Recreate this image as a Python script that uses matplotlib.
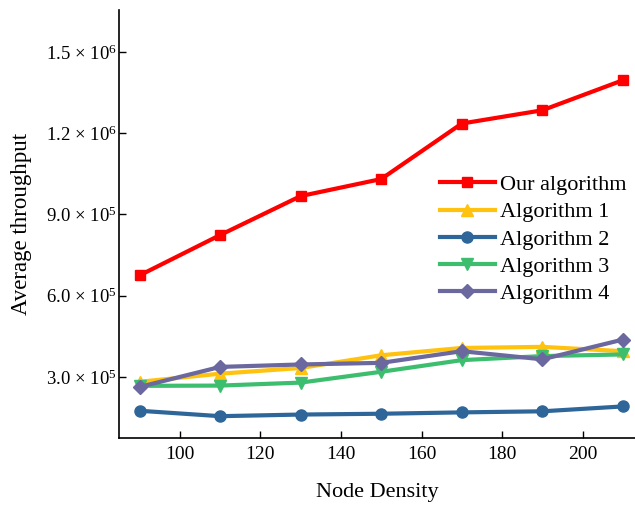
import matplotlib
matplotlib.use("Agg")
import matplotlib.pyplot as plt
from matplotlib.ticker import FuncFormatter

# Node density on the x axis
node_density = [90, 110, 130, 150, 170, 190, 210]

# Average throughput per method
our_algorithm = [6.75e5, 8.24e5, 9.68e5, 1.031e6, 1.236e6, 1.285e6, 1.396e6]
algorithm_1 = [2.82e5, 3.12e5, 3.33e5, 3.80e5, 4.07e5, 4.11e5, 3.95e5]
algorithm_2 = [1.75e5, 1.55e5, 1.61e5, 1.64e5, 1.69e5, 1.73e5, 1.91e5]
algorithm_3 = [2.67e5, 2.68e5, 2.79e5, 3.19e5, 3.62e5, 3.77e5, 3.83e5]
algorithm_4 = [2.63e5, 3.37e5, 3.46e5, 3.52e5, 3.95e5, 3.65e5, 4.38e5]

series_names = ["Our algorithm", "Algorithm 1", "Algorithm 2", "Algorithm 3", "Algorithm 4"]
series_values = [our_algorithm, algorithm_1, algorithm_2, algorithm_3, algorithm_4]
colors = ["#FF0000", "#FFC20E", "#2F6699", "#3DBE6F", "#6A689E"]
markers = ["s", "^", "o", "v", "D"]
marker_sizes = [7.5, 8, 8, 8, 7]

y_ticks = [3.0e5, 6.0e5, 9.0e5, 1.2e6, 1.5e6]

plt.rcParams["font.family"] = ["Liberation Serif", "DejaVu Serif"]
plt.rcParams["mathtext.fontset"] = "stix"

fig = plt.figure(figsize=(6.35, 5.05), dpi=100)
ax = fig.add_axes([0.188, 0.133, 0.812, 0.847])

for name, vals, c, m, ms in zip(series_names, series_values, colors, markers, marker_sizes):
    ax.plot(node_density, vals, color=c, marker=m, markersize=ms, linewidth=3, label=name)

def sci_label(v, pos):
    exp = 0
    mant = v
    while abs(mant) >= 10:
        mant /= 10
        exp += 1
    return r"$\mathregular{%.1f\,\times\,10^{%d}}$" % (mant, exp)

ax.set_xlim(85, 213)
ax.set_ylim(0.75e5, 1.655e6)
ax.set_xticks([100, 120, 140, 160, 180, 200])
ax.set_yticks(y_ticks)
ax.yaxis.set_major_formatter(FuncFormatter(sci_label))
ax.tick_params(direction="in", length=5, width=1, labelsize=14)
ax.tick_params(axis="y", pad=2, labelsize=13.5)
ax.tick_params(axis="x", pad=6)

for side in ["top", "right"]:
    ax.spines[side].set_visible(False)
for side in ["left", "bottom"]:
    ax.spines[side].set_linewidth(1.2)

ax.set_xlabel("Node Density", fontsize=16, labelpad=14)
ax.set_ylabel("Average throughput", fontsize=16.5, labelpad=10)

ax.legend(loc="upper right", bbox_to_anchor=(1.0, 0.636), frameon=False,
          fontsize=16, handlelength=2.45, handletextpad=0.23, labelspacing=0.3,
          borderaxespad=0.0)

fig.savefig("out.png", dpi=100)
